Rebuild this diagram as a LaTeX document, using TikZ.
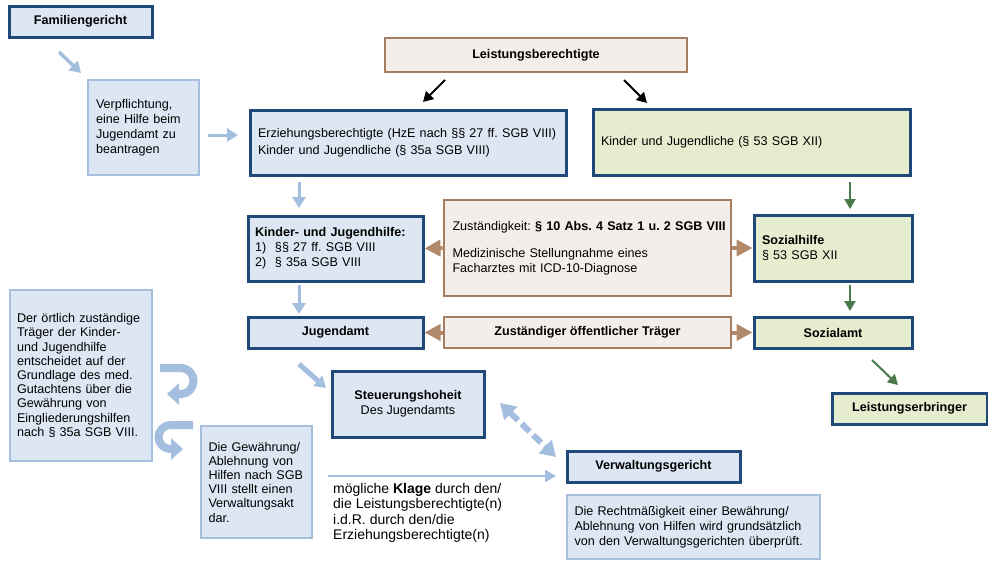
\documentclass[tikz,border=0pt]{standalone}
\usepackage{fontspec}
\setmainfont{Liberation Sans}
\usetikzlibrary{arrows.meta}
\frenchspacing
\definecolor{dkblue}{RGB}{31,73,120}
\definecolor{ltfill}{RGB}{221,231,244}
\definecolor{ltborder}{RGB}{166,191,222}
\definecolor{arrblue}{RGB}{164,190,223}
\definecolor{brborder}{RGB}{168,126,96}
\definecolor{brfill}{RGB}{243,238,234}
\definecolor{brarr}{RGB}{176,136,106}
\definecolor{grfill}{RGB}{230,237,206}
\definecolor{grarr}{RGB}{74,122,74}
\tikzset{
  txt/.style={font=\fontsize{12.6}{15}\selectfont},
  dkbox/.style={txt, draw=dkblue, line width=3pt, fill=ltfill, inner sep=0pt},
  ltbox/.style={txt, draw=ltborder, line width=2.8pt, fill=ltfill, inner sep=0pt},
  brbox/.style={txt, draw=brborder, line width=2.6pt, fill=brfill, inner sep=0pt},
  grbox/.style={txt, draw=dkblue, line width=3pt, fill=grfill, inner sep=0pt},
  lbarrow/.style={draw=arrblue, line width=3.5pt, -{Triangle[width=13pt,length=11pt]}},
  thinblue/.style={draw=arrblue, line width=2.5pt, -{Triangle[width=12pt,length=11pt]}},
  brarrow/.style={draw=brarr, fill=brarr, line width=4pt, -{Triangle[width=16pt,length=16pt]}},
  blkarrow/.style={draw=black, line width=2pt, -{Triangle[width=11pt,length=10pt]}},
  grarrow/.style={draw=grarr, line width=2pt, -{Triangle[width=11pt,length=10pt]}},
  uarrow/.style={draw=arrblue, line width=8pt, -{Triangle[width=21pt,length=12pt]}},
}
\begin{document}
\begin{tikzpicture}[x=1pt,y=-1pt]
\useasboundingbox (0,0) rectangle (988,560);
\fill[white] (0,0) rectangle (988,560);

% boxes
\node[dkbox, minimum width=143pt, minimum height=31pt] (fam) at (80.5,21.5) {\textbf{Familiengericht}};
\node[ltbox, text width=95pt, inner xsep=8pt, minimum height=95pt, align=left] (verpf) at (143.5,127.5)
  {Verpflichtung,\\eine Hilfe beim\\Jugendamt zu\\beantragen};
\node[brbox, minimum width=302pt, minimum height=34pt] (leist) at (536,55) {\textbf{Leistungsberechtigte}};
\node[dkbox, text width=300pt, inner xsep=8pt, minimum height=65pt, align=left, font=\fontsize{12.6}{16.5}\selectfont] (erz) at (408,142.5)
  {Erziehungsberechtigte (HzE nach §§ 27 ff. SGB VIII)\\Kinder und Jugendliche (§ 35a SGB VIII)};
\node[grbox, text width=301pt, inner xsep=8pt, minimum height=66pt, align=left] (kj) at (751.5,142)
  {Kinder und Jugendliche (§ 53 SGB XII)};
\node[dkbox, text width=161pt, inner xsep=7pt, minimum height=65pt, align=left] (kjh) at (335.5,248.5)
  {\textbf{Kinder- und Jugendhilfe:}\\\makebox[20pt][l]{1)}§§ 27 ff. SGB VIII\\\makebox[20pt][l]{2)}§ 35a SGB VIII};
\node[brbox, text width=279pt, inner xsep=4pt, minimum height=96pt, align=left] (zust) at (587.5,248)
  {\hspace*{4.5pt}\mbox{Zuständigkeit: \textbf{§ 10 Abs. 4 Satz 1 u. 2 SGB VIII}}\\[12pt]\hspace*{4.5pt}Medizinische Stellungnahme eines\\\hspace*{4.5pt}Facharztes mit ICD-10-Diagnose};
\node[grbox, text width=142pt, inner xsep=8pt, minimum height=66pt, align=left] (sozh) at (833,248)
  {\textbf{Sozialhilfe}\\§ 53 SGB XII};
\node[dkbox, minimum width=175pt, minimum height=31pt] (jug) at (335.5,332.5) {\textbf{Jugendamt}};
\node[brbox, minimum width=287pt, minimum height=31pt] (traeger) at (587.5,332.5) {\textbf{Zuständiger öffentlicher Träger}};
\node[grbox, minimum width=158pt, minimum height=31pt] (sozamt) at (833,332.5) {\textbf{Sozialamt}};
\node[grbox, minimum width=155pt, minimum height=31pt] (erbr) at (909.5,408.5) {\textbf{Leistungserbringer}};
\node[ltbox, text width=128pt, inner xsep=7pt, minimum height=171pt, align=left, font=\fontsize{12.6}{14.2}\selectfont] (oertl) at (81,375.5)
  {Der örtlich zuständige\\Träger der Kinder-\\und Jugendhilfe\\entscheidet auf der\\Grundlage des med.\\Gutachtens über die\\Gewährung von\\Eingliederungshilfen\\nach § 35a SGB VIII.};
\node[ltbox, text width=96pt, inner xsep=7.5pt, minimum height=112pt, align=left, font=\fontsize{12.6}{14.2}\selectfont] (gew) at (256.5,482)
  {Die Gewährung/\\Ablehnung von\\Hilfen nach SGB\\VIII stellt einen\\Verwaltungsakt\\dar.};
\node[dkbox, minimum width=152pt, minimum height=66pt, align=center] (steu) at (408,404)
  {\textbf{Steuerungshoheit}\\Des Jugendamts};
\node[dkbox, minimum width=173pt, minimum height=31pt] (verw) at (653.5,466.5) {\textbf{Verwaltungsgericht}};
\node[ltbox, text width=238pt, inner xsep=7.5pt, minimum height=64pt, align=left] (recht) at (693.5,527)
  {Die Rechtmäßigkeit einer Bewährung/\\Ablehnung von Hilfen wird grundsätzlich\\von den Verwaltungsgerichten überprüft.};
\node[anchor=north west, align=left, inner sep=0pt, font=\fontsize{14}{15.4}\selectfont] (klage) at (333,483)
  {mögliche \textbf{Klage} durch den/\\die Leistungsberechtigte(n)\\i.d.R. durch den/die\\Erziehungsberechtigte(n)};

% coordinates for free arrow ends
\coordinate (f1) at (59,52);   \coordinate (f2) at (81,73);
\coordinate (v1) at (208,135); \coordinate (v2) at (238,135);
\coordinate (b1) at (445,80);  \coordinate (b2) at (423,102);
\coordinate (b3) at (624,80);  \coordinate (b4) at (647,103);
\coordinate (d1) at (299,182); \coordinate (d2) at (299,208);
\coordinate (d3) at (299,285); \coordinate (d4) at (299,314);
\coordinate (g1) at (850,182); \coordinate (g2) at (850,209);
\coordinate (g3) at (850,285); \coordinate (g4) at (850,311);
\coordinate (g5) at (872,360); \coordinate (g6) at (898,385);
\coordinate (s1) at (299,364); \coordinate (s2) at (326,388);
\coordinate (w1) at (500,403); \coordinate (w2) at (556,457);
\coordinate (k1) at (328,476); \coordinate (k2) at (556,476);

% arrows
\draw[lbarrow] (f1) -- (f2);
\draw[lbarrow, line width=3pt] (v1) -- (v2);
\draw[blkarrow] (b1) -- (b2);
\draw[blkarrow] (b3) -- (b4);
\draw[lbarrow, line width=3pt] (d1) -- (d2);
\draw[lbarrow, line width=3pt] (d3) -- (d4);
\draw[grarrow] (g1) -- (g2);
\draw[grarrow] (g3) -- (g4);
\draw[grarrow] (g5) -- (g6);
\draw[brarrow] (zust.west) -- (kjh.east);
\draw[brarrow] (zust.east) -- (sozh.west);
\draw[brarrow] (traeger.west) -- (jug.east);
\draw[brarrow] (traeger.east) -- (sozamt.west);
\draw[lbarrow, line width=5pt] (s1) -- (s2);
\draw[draw=arrblue, line width=6pt, dash pattern=on 11pt off 5pt,
  {Triangle[width=18pt,length=15pt]}-{Triangle[width=18pt,length=15pt]}] (w1) -- (w2);
\draw[thinblue] (k1) -- (k2);

% U-turn arrows
\draw[uarrow] (160,368) -- (180,368) .. controls (198,368) and (198,394) .. (180,394) -- (167,394);
\draw[uarrow] (193,425) -- (172,425) .. controls (154,425) and (154,449) .. (172,449) -- (183,449);
\end{tikzpicture}
\end{document}
